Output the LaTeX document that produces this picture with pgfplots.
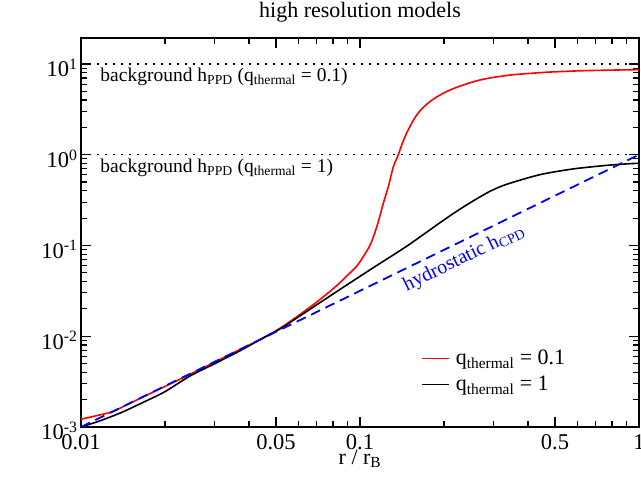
\documentclass[border=0pt]{standalone}
\usepackage{fontspec}
\setmainfont{Liberation Serif}
\usepackage{pgfplots}
\pgfplotsset{compat=1.18}
\usetikzlibrary{calc}
\begin{document}
\begin{tikzpicture}
\begin{axis}[
  scale only axis, width=558bp, height=389bp,
  xmode=log, ymode=log,
  xmin=0.01, xmax=1, ymin=1e-3, ymax=19.3,
  xtick={0.01,0.05,0.1,0.5,1}, xticklabels={0.01,0.05,0.1,0.5,1},
  minor xtick={0.02,0.03,0.04,0.06,0.07,0.08,0.09,0.2,0.3,0.4,0.6,0.7,0.8,0.9},
  ytick={1e-3,1e-2,1e-1,1,10},
  yticklabels={10\textsuperscript{-3},10\textsuperscript{-2},10\textsuperscript{-1},10\textsuperscript{0},10\textsuperscript{1}},
  minor ytick={2e-3,3e-3,4e-3,5e-3,6e-3,7e-3,8e-3,9e-3,2e-2,3e-2,4e-2,5e-2,6e-2,7e-2,8e-2,9e-2,0.2,0.3,0.4,0.5,0.6,0.7,0.8,0.9,2,3,4,5,6,7,8,9},
  tick align=inside,
  major tick style={black, line width=1.3bp},
  minor tick style={black, line width=1.1bp},
  major tick length=10bp, minor tick length=6bp,
  axis line style={line width=2bp},
  ticklabel style={font=\fontsize{22.5bp}{26bp}\selectfont},
  xticklabel style={yshift=-4bp},
  yticklabel style={yshift=-4bp},
  /pgf/number format/assume math mode=true,
  title={high resolution models},
  title style={font=\fontsize{22bp}{26bp}\selectfont, at={(axis description cs:0.5,1)}, anchor=base, yshift=15bp},
  xlabel={r / r\textsubscript{B}},
  xlabel style={font=\fontsize{22bp}{26bp}\selectfont, at={(axis description cs:0.5,0)}, anchor=base, yshift=-37bp},
  ylabel={h / r\textsubscript{B}},
  ylabel style={font=\fontsize{22bp}{26bp}\selectfont, at={($(axis description cs:0,0.5)+(-44bp,0)$)}, anchor=base},
  legend style={draw=none, fill=none, at={(axis description cs:0.604,0.208)}, anchor=north west,
    font=\fontsize{22bp}{26bp}\selectfont, row sep=6bp},
  legend cell align=left,
  legend image code/.code={\draw[#1] (0bp,0bp) -- (27bp,0bp); \path (31bp,0bp);},
]
\addplot[red, line width=1.6bp, smooth, tension=0.45] coordinates {
(0.0100,1.22e-3) (0.0117,1.36e-3) (0.0130,1.48e-3) (0.0150,1.83e-3) (0.0200,2.80e-3)
(0.0250,3.90e-3) (0.0300,5.15e-3) (0.0370,7.10e-3) (0.0439,9.2e-3) (0.0516,1.22e-2)
(0.0610,1.74e-2) (0.0700,2.38e-2) (0.0781,3.12e-2) (0.0848,3.90e-2) (0.0896,4.60e-2)
(0.0973,5.90e-2) (0.1027,7.50e-2) (0.1080,9.70e-2) (0.1116,0.123) (0.1165,0.185)
(0.1212,0.29) (0.1265,0.45) (0.1316,0.73) (0.1372,1.0) (0.1420,1.35) (0.1470,1.73)
(0.1560,2.45) (0.1650,3.1) (0.1782,3.85) (0.1950,4.6) (0.2160,5.35) (0.2479,6.2)
(0.2690,6.65) (0.3000,7.1) (0.3540,7.6) (0.4670,8.1) (0.6140,8.4) (0.8000,8.55) (1.0,8.65)
};
\addlegendentry{q\textsubscript{thermal} = 0.1}
\addplot[black, line width=1.6bp, smooth, tension=0.45] coordinates {
(0.0100,1.00e-3) (0.0117,1.17e-3) (0.0140,1.45e-3) (0.0172,1.95e-3) (0.0200,2.45e-3)
(0.0246,3.65e-3) (0.0300,4.95e-3) (0.0371,6.90e-3) (0.0439,9.2e-3) (0.0516,1.20e-2)
(0.0610,1.68e-2) (0.0848,3.28e-2) (0.1116,5.69e-2) (0.1470,9.8e-2) (0.1935,0.178)
(0.2221,0.238) (0.2547,0.310) (0.2924,0.395) (0.3356,0.472) (0.4417,0.603)
(0.5815,0.697) (0.7660,0.763) (0.9280,0.796) (1.0,0.805)
};
\addlegendentry{q\textsubscript{thermal} = 1}
\addplot[blue, line width=1.8bp, dash pattern=on 10bp off 6bp, forget plot] coordinates {(0.01,0.001) (1,1)};
\addplot[black, line width=1.6bp, dash pattern=on 1.6bp off 6.4bp, forget plot] coordinates {(0.01,10) (1,10)};
\addplot[black, line width=1.6bp, dash pattern=on 1.6bp off 6.4bp, forget plot] coordinates {(0.01,1) (1,1)};
\node[anchor=base west, font=\fontsize{19.5bp}{24bp}\selectfont] at (axis cs:0.01141,6.34)
  {background h\textsubscript{PPD} (q\textsubscript{thermal} = 0.1)};
\node[anchor=base west, font=\fontsize{19.5bp}{24bp}\selectfont] at (axis cs:0.01141,0.634)
  {background h\textsubscript{PPD} (q\textsubscript{thermal} = 1)};
\node[rotate=26, text=blue, font=\fontsize{20bp}{24bp}\selectfont] at (axis cs:0.236,0.0725)
  {hydrostatic h\textsubscript{CPD}};
\end{axis}
\pgfresetboundingbox
\path (-81bp,-56bp) rectangle (560bp,427bp);
\end{tikzpicture}
\end{document}
